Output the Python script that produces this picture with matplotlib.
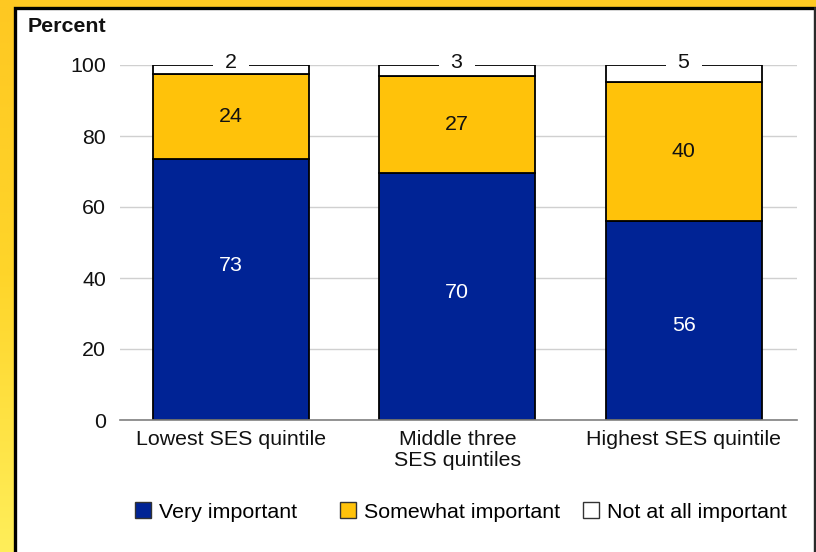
import matplotlib
matplotlib.use("Agg")
import matplotlib.pyplot as plt
import numpy as np
from matplotlib.patches import Rectangle, Patch
from matplotlib.colors import LinearSegmentedColormap

plt.rcParams['font.family'] = ['Liberation Sans', 'DejaVu Sans']

categories = ["Lowest SES quintile", "Middle three\nSES quintiles", "Highest SES quintile"]
very_important = [73.4, 69.6, 56.1]
somewhat_important = [24.2, 27.3, 39.2]
not_important = [2.4, 3.1, 4.7]
very_labels = ["73", "70", "56"]
somewhat_labels = ["24", "27", "40"]
not_labels = ["2", "3", "5"]
very_label_pos = [43.5, 36.0, 26.5]
series_names = ["Very important", "Somewhat important", "Not at all important"]
yticks = [0, 20, 40, 60, 80, 100]

BLUE = "#002395"
GOLD = "#FFC20A"
BG = "#FEC822"

W, H = 816, 552
fig = plt.figure(figsize=(W / 100, H / 100), dpi=100)
fig.patch.set_facecolor(BG)

# gradient on left strip
gax = fig.add_axes([0, 0, 15 / W, 1], zorder=-5)
grad = np.linspace(0, 1, 256)[:, None]
cmap = LinearSegmentedColormap.from_list("g", ["#FFEE5A", "#FED52A", "#FEC822"])
gax.imshow(grad, aspect="auto", cmap=cmap, origin="lower", extent=[0, 1, 0, 1])
gax.axis("off")

# white panel with black border
panel = Rectangle((14.5 / W, -0.05), (814.5 - 14.5) / W, (H - 7.5) / H + 0.05,
                  transform=fig.transFigure, facecolor="white", edgecolor="black",
                  linewidth=2.4, zorder=-2)
fig.add_artist(panel)
fig.add_artist(plt.Line2D([814.5 / W, 814.5 / W], [0, (H - 7.5) / H], transform=fig.transFigure,
                          color="#333333", linewidth=1.2, zorder=-1))

ax = fig.add_axes([120 / W, (H - 420) / H, (797 - 120) / W, 355 / H], zorder=2)
ax.set_facecolor("none")
x = np.arange(len(categories))
width = 0.69
fs = 15.4

ax.bar(x, very_important, width, color=BLUE, edgecolor="black", linewidth=1.3, zorder=3)
bottom2 = np.array(very_important)
ax.bar(x, somewhat_important, width, bottom=bottom2, color=GOLD, edgecolor="black", linewidth=1.3, zorder=3)
bottom3 = bottom2 + np.array(somewhat_important)
ax.bar(x, not_important, width, bottom=bottom3, color="white", edgecolor="black", linewidth=1.3, zorder=3)

for i in range(len(categories)):
    ax.text(x[i], very_label_pos[i], very_labels[i], ha="center", va="center", color="white", fontsize=fs, zorder=5)
    ax.text(x[i], bottom2[i] + somewhat_important[i] / 2, somewhat_labels[i], ha="center", va="center",
            color="#111111", fontsize=fs, zorder=5)
    top = bottom3[i] + not_important[i]
    ax.text(x[i], top + 0.8, "  " + not_labels[i] + "  ", ha="center", va="center", color="#111111",
            fontsize=fs, zorder=6, clip_on=False,
            bbox=dict(facecolor="white", edgecolor="none", pad=0))

ax.set_xlim(-0.49, 2.5)
ax.set_ylim(0, 100)
ax.set_yticks(yticks)
ax.set_yticklabels([str(t) for t in yticks], fontsize=fs, color="#111111")
ax.set_xticks(x)
ax.set_xticklabels(categories, fontsize=fs, color="#111111", linespacing=1.15)
ax.tick_params(axis="x", length=0, pad=7)
ax.tick_params(axis="y", length=0, pad=10)
ax.grid(axis="y", color="#d0d0d0", linewidth=1.0, zorder=0)
for s in ["top", "right", "left"]:
    ax.spines[s].set_visible(False)
ax.spines["bottom"].set_color("#808080")
ax.spines["bottom"].set_linewidth(1.2)
ax.spines["bottom"].set_zorder(4)

fig.text(28 / W, 1 - 26 / H, "Percent", fontsize=fs, fontweight="bold", ha="left", va="center", color="#111111")

handles = [Patch(facecolor=BLUE, edgecolor="#333333", linewidth=1.0),
           Patch(facecolor=GOLD, edgecolor="#333333", linewidth=1.0),
           Patch(facecolor="white", edgecolor="#333333", linewidth=1.0)]
legend_x = [135, 340, 583]
for hx, h, name in zip(legend_x, handles, series_names):
    fig.legend([h], [name], loc="center left", bbox_to_anchor=(hx / W, 1 - 512 / H),
               frameon=False, fontsize=fs, handlelength=0.75, handleheight=0.75, handletextpad=0.35,
               borderpad=0, borderaxespad=0)

fig.savefig("out.png", dpi=100, facecolor=fig.get_facecolor())
